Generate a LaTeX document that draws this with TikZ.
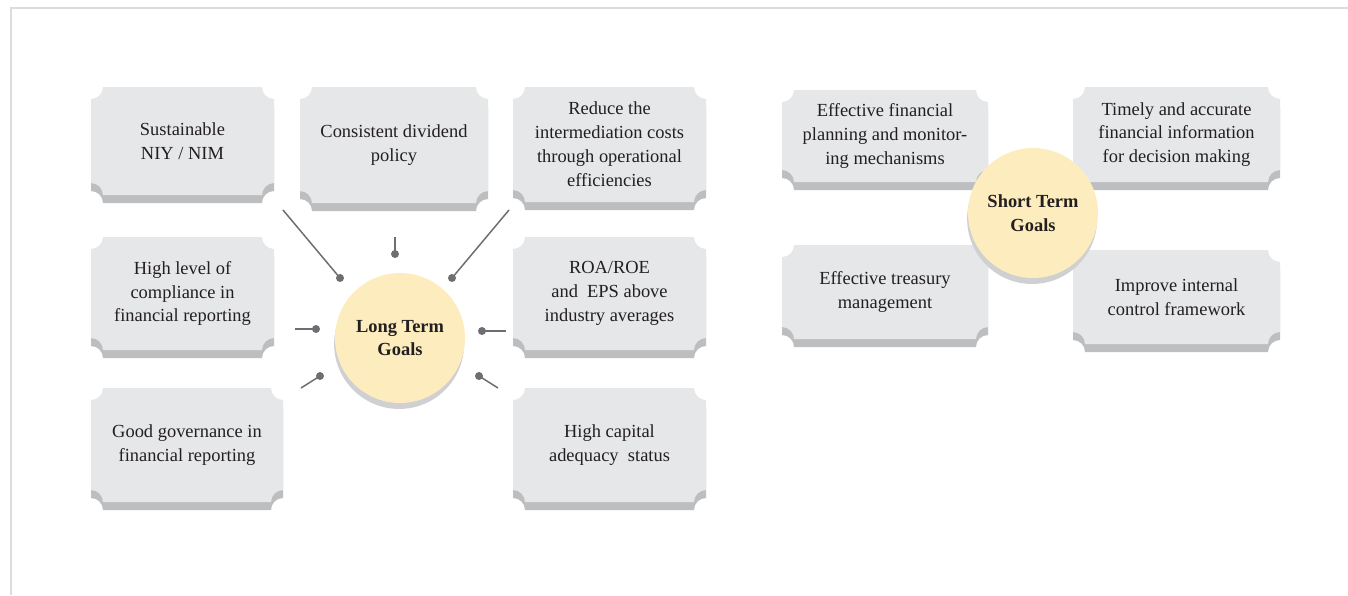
\documentclass[tikz,border=0pt]{standalone}
\usepackage{fontspec}
\setmainfont{Liberation Serif}
\usetikzlibrary{shadows}

\definecolor{boxgray}{HTML}{E6E7E8}
\definecolor{boxshade}{HTML}{BCBEC0}
\definecolor{goalyellow}{HTML}{FDEDBE}
\definecolor{goalshade}{HTML}{D0D0D2}
\definecolor{spokegray}{HTML}{6D6E71}
\definecolor{framegray}{HTML}{DCDCDC}
\definecolor{inkgray}{HTML}{231F20}

\tikzset{
  goaltext/.style={align=center, text=inkgray, inner sep=0pt,
    font=\fontsize{10.5}{13.6}\selectfont},
  hub/.style={circle, fill=goalyellow, minimum size=2.6cm, inner sep=0pt,
    align=center, text=inkgray, font=\fontsize{10.5}{13.6}\selectfont\bfseries,
    drop shadow={shadow xshift=-0.5pt, shadow yshift=-3.4pt, fill=goalshade, opacity=1}},
  spoke/.style={draw=spokegray, line width=0.85pt},
}

% card with notched corners, corners given on the pixel grid (y runs down)
\newcommand{\cardpath}[4]{(#1+12,#2) -- (#3-12,#2)
  arc[start angle=180,end angle=90,radius=12] -- (#3,#4-12)
  arc[start angle=270,end angle=180,radius=12] -- (#1+12,#4)
  arc[start angle=0,end angle=-90,radius=12] -- (#1,#2+12)
  arc[start angle=90,end angle=0,radius=12] -- cycle}
\newcommand{\goalcard}[6]{%
  \fill[boxshade, shift={(0,8)}] \cardpath{#2}{#3}{#4}{#5};
  \fill[boxgray] \cardpath{#2}{#3}{#4}{#5};
  \node[goaltext] (#1) at ({(#2+#4)/2},{(#3+#5)/2}) {#6};
}

\begin{document}
\begin{tikzpicture}[x=0.02cm, y=-0.02cm]
  \useasboundingbox (0,0) rectangle (1348,595);
  \draw[framegray, line width=1.1pt] (11,595) -- (11,8) -- (1348,8);

  % long term cards
  \goalcard{niy}{91}{87}{274}{195}{Sustainable\\NIY / NIM}
  \goalcard{div}{300}{87}{488}{203}{Consistent dividend\\policy}
  \goalcard{cost}{513}{87}{706}{202}{Reduce the\\intermediation costs\\through operational\\efficiencies}
  \goalcard{comp}{91}{237}{274}{350}{High level of\\compliance in\\financial reporting}
  \goalcard{roa}{513}{237}{706}{350}{ROA/ROE\\and~ EPS above\\industry averages}
  \goalcard{gov}{91}{388}{283}{502}{Good governance in\\financial reporting}
  \goalcard{cap}{513}{388}{706}{502}{High capital\\adequacy~ status}

  \node[hub] (ltg) at (400,338) {Long Term\\Goals};

  % spokes round the hub
  \coordinate (o1) at (283,210); \coordinate (d1) at (340,278);
  \coordinate (o2) at (395,237); \coordinate (d2) at (395,254);
  \coordinate (o3) at (509,210); \coordinate (d3) at (452,278);
  \coordinate (o4) at (295,329); \coordinate (d4) at (316,329);
  \coordinate (o5) at (506,331); \coordinate (d5) at (482,331);
  \coordinate (o6) at (301,388); \coordinate (d6) at (320,376);
  \coordinate (o7) at (498,388); \coordinate (d7) at (479,376);
  \foreach \i in {1,...,7}{
    \draw[spoke] (o\i) -- (d\i);
    \fill[spokegray] (d\i) circle[radius=4];
  }

  % short term cards
  \goalcard{plan}{782}{90}{988}{182}{Effective financial\\planning and monitor-\\ing mechanisms}
  \goalcard{info}{1073}{87}{1280}{182}{Timely and accurate\\financial information\\for decision making}
  \goalcard{treas}{782}{245}{988}{339}{Effective treasury\\management}
  \goalcard{ctrl}{1073}{250}{1280}{344}{Improve internal\\control framework}

  \node[hub] (stg) at (1033,213) {Short Term\\Goals};
\end{tikzpicture}
\end{document}
